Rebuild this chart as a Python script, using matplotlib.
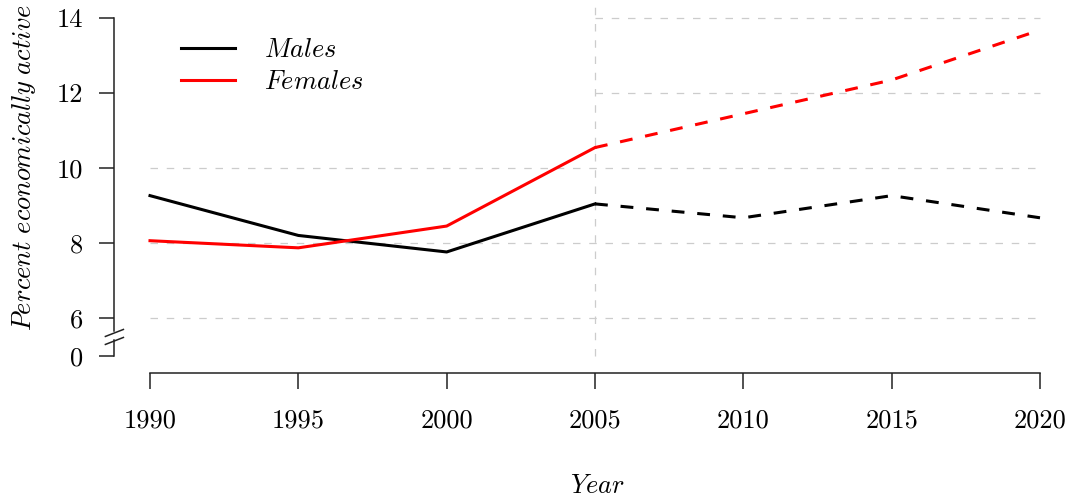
import matplotlib
matplotlib.use("Agg")
import matplotlib.pyplot as plt
import numpy as np

plt.rcParams['mathtext.fontset'] = 'cm'
plt.rcParams['axes.unicode_minus'] = False

years_obs = [1990, 1995, 2000, 2005]
years_proj = [2005, 2010, 2015, 2020]
males_obs = [9.27, 8.21, 7.77, 9.05]
males_proj = [9.05, 8.68, 9.27, 8.68]
females_obs = [8.07, 7.88, 8.46, 10.55]
females_proj = [10.55, 11.45, 12.35, 13.68]

x_ticks = [1990, 1995, 2000, 2005, 2010, 2015, 2020]
y_ticks = [5, 6, 8, 10, 12, 14]          # 5 stands for the broken-axis "0"
y_ticklabels = ['0', '6', '8', '10', '12', '14']
grid_full = [6, 8, 10]
grid_right = [12, 14]

W, H = 1071, 497
fig = plt.figure(figsize=(W / 100, H / 100), dpi=100)
ax = fig.add_axes([114.4 / W, (H - 369.5) / H, 961.2 / W, 365 / H])
ax.set_xlim(1988.8, 2021.2)
ax.set_ylim(4.64, 14.36)

gcol = '#cccccc'
gdash = (0, (6, 7))
ax.hlines(grid_full, 1990, 2020, colors=gcol, lw=0.9, linestyles=[gdash])
ax.hlines(grid_right, 2005, 2020, colors=gcol, lw=0.9, linestyles=[gdash])
ax.vlines(2005, 5, 14.36, colors=gcol, lw=0.9, linestyles=[gdash])

lw = 2.2
ax.plot(years_obs, males_obs, color='black', lw=lw, label=r'$Males$')
ax.plot(years_obs, females_obs, color='#ff0000', lw=lw, label=r'$Females$')
ax.plot(years_proj, males_proj, color='black', lw=lw, dashes=(4.2, 4.2))
ax.plot(years_proj, females_proj, color='#ff0000', lw=lw, dashes=(4.2, 4.2))

for s in ['top', 'right', 'left']:
    ax.spines[s].set_visible(False)
ax.spines['bottom'].set_position(('outward', 2.5))
ax.spines['bottom'].set_bounds(1990, 2020)
ax.spines['bottom'].set_linewidth(1.1)
ax.spines['bottom'].set_color('#222222')

ax.set_xticks(x_ticks)
ax.set_xticklabels([str(v) for v in x_ticks], fontfamily='cmr10', fontsize=19)
ax.tick_params(axis='x', length=11.5, width=1.1, pad=14, color='#222222')
ax.set_yticks(y_ticks)
ax.set_yticklabels(y_ticklabels, fontfamily='cmr10', fontsize=19)
ax.tick_params(axis='y', length=10.8, width=1.1, pad=12, color='#222222')

# left axis line with break
yt = ax.get_yaxis_transform()
def ypx(p):
    return 14 - (p - 18) / 37.56
dx = 9 / 961.2
ax.plot([0, 0], [14, ypx(331)], color='#222222', lw=1.1, transform=yt, clip_on=False)
ax.plot([0, 0], [ypx(340), 5], color='#222222', lw=1.1, transform=yt, clip_on=False)
for c in [333, 341]:
    ax.plot([-dx, dx], [ypx(c + 3.5), ypx(c - 3.5)], color='#222222', lw=1.1,
            transform=yt, clip_on=False)

ax.legend(loc='upper left', bbox_to_anchor=(157 / W, 1 - 13 / H),
          bbox_transform=fig.transFigure, frameon=False, fontsize=19,
          handlelength=2.05, handletextpad=1.1, labelspacing=0.25)

fig.text(24 / W, 1 - 168 / H, r'$Percent\ economically\ active$', rotation=90,
         ha='center', va='center', fontsize=19)
fig.text(597 / W, 1 - 486 / H, r'$Year$', ha='center', va='center', fontsize=19)

fig.savefig('out.png', dpi=100)
